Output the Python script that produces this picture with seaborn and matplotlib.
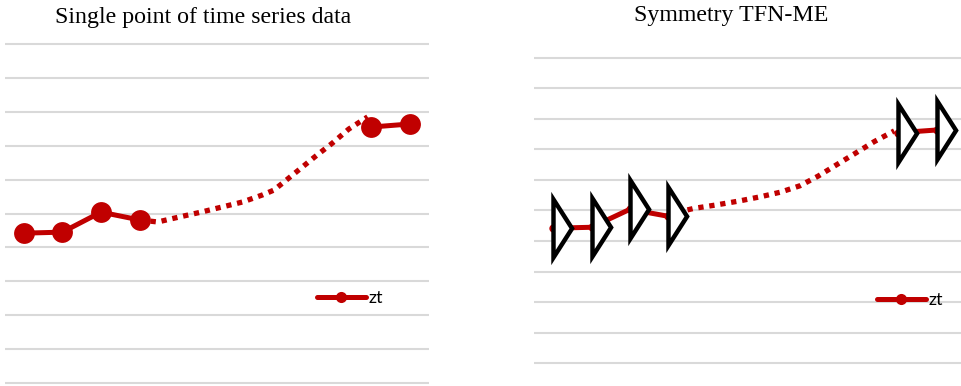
"""Two-panel line chart: raw time series vs. symmetric TFN-ME markers."""
import matplotlib

matplotlib.use("Agg")
import matplotlib.pyplot as plt
import seaborn as sns
from matplotlib.lines import Line2D
from matplotlib.path import Path

sns.set_theme(style="white")

# observed points (category index, value)
obs_x = [0, 1, 2, 3]
obs_y = [4.42, 4.45, 5.04, 4.81]
tail_x = [9, 10]
tail_y = [7.55, 7.64]

# dotted gap line, left panel
gap_left_x = [3.0, 3.47, 4.04, 4.59, 5.13, 5.67, 6.19, 6.48, 6.71, 7.12, 7.54, 8.0, 8.42, 8.91]
gap_left_y = [4.81, 4.75, 4.90, 5.04, 5.19, 5.34, 5.55, 5.69, 5.90, 6.28, 6.67, 7.08, 7.49, 7.85]

# dotted gap line, right panel
gap_right_x = [3.5, 3.67, 4.24, 4.84, 5.40, 5.92, 6.43, 6.91, 7.40, 7.88, 8.37, 8.89]
gap_right_y = [5.02, 5.07, 5.18, 5.31, 5.45, 5.60, 5.81, 6.13, 6.51, 6.88, 7.26, 7.61]

grid_ticks = list(range(11))
titles = ["Single point of time series data", "Symmetry TFN-ME"]
legend_label = "zt"

RED = "#C00000"
GRID = "#D9D9D9"
W, H = 961, 386
LW = 3.6

fig = plt.figure(figsize=(W / 100, H / 100), dpi=100)


def add_axes(left, right, y0px, y10px, xlim):
    # y0px / y10px: pixel rows of value 0 and 10; pad ylim a little so edge grid shows
    per = (y0px - y10px) / 10
    lo, hi = -0.1, 10.1
    bottom_px = y0px - lo * per
    top_px = y10px - (hi - 10) * per
    ax = fig.add_axes([left / W, 1 - bottom_px / H, (right - left) / W, (bottom_px - top_px) / H])
    ax.set_xlim(*xlim)
    ax.set_ylim(lo, hi)
    ax.set_yticks(grid_ticks)
    ax.yaxis.grid(True, color=GRID, linewidth=1.5)
    ax.xaxis.grid(False)
    ax.tick_params(left=False, bottom=False, labelleft=False, labelbottom=False)
    for s in ax.spines.values():
        s.set_visible(False)
    ax.patch.set_alpha(0)
    return ax


def legend(ax, x, y):
    h = Line2D([], [], color=RED, lw=LW, marker="o", markersize=8, markeredgewidth=0)
    leg = ax.legend([h], [legend_label], loc="center left", bbox_to_anchor=(x / W, 1 - y / H),
                    bbox_transform=fig.transFigure, frameon=False, handlelength=2.7,
                    handletextpad=0.15, borderpad=0, borderaxespad=0,
                    prop={"family": "Lato", "size": 13})
    for t in leg.get_texts():
        t.set_color("black")


# ---- left panel
ax1 = add_axes(4.5, 429, 383, 44, (-0.5, 10.5))
sns.lineplot(x=gap_left_x, y=gap_left_y, ax=ax1, color=RED, lw=3.8,
             linestyle=(0, (1, 1.1)), dash_capstyle="butt", sort=False)
for xs, ys in [(obs_x, obs_y), (tail_x, tail_y)]:
    sns.lineplot(x=xs, y=ys, ax=ax1, color=RED, lw=LW, marker="o", markersize=15,
                 markeredgewidth=0, sort=False)
legend(ax1, 317, 298)
fig.text(203 / W, 1 - 17 / H, titles[0], ha="center", va="center",
         family="Liberation Serif", fontsize=17.2, color="black")

# ---- right panel
ax2 = add_axes(534, 961, 363, 58, (-0.5, 10.63))
sns.lineplot(x=gap_right_x, y=gap_right_y, ax=ax2, color=RED, lw=3.8,
             linestyle=(0, (1, 1.1)), dash_capstyle="butt", sort=False)
for xs, ys in [(obs_x, obs_y), (tail_x, tail_y)]:
    sns.lineplot(x=xs, y=ys, ax=ax2, color=RED, lw=LW, marker="o", markersize=6,
                 markeredgewidth=0, sort=False)

# tall right-pointing triangle whose left edge sits on the data point
tri = Path([(0, -1), (0.64, 0), (0, 1), (0, -1)],
           [Path.MOVETO, Path.LINETO, Path.LINETO, Path.CLOSEPOLY])
sns.scatterplot(x=obs_x + tail_x, y=obs_y + tail_y, ax=ax2, marker=tri, s=1750,
                facecolor="white", edgecolor="black", linewidth=3.2, joinstyle="miter",
                zorder=5)
legend(ax2, 877, 300)
fig.text(731 / W, 1 - 15 / H, titles[1], ha="center", va="center",
         family="Liberation Serif", fontsize=17.2, color="black")

fig.savefig("out.png", dpi=100)
